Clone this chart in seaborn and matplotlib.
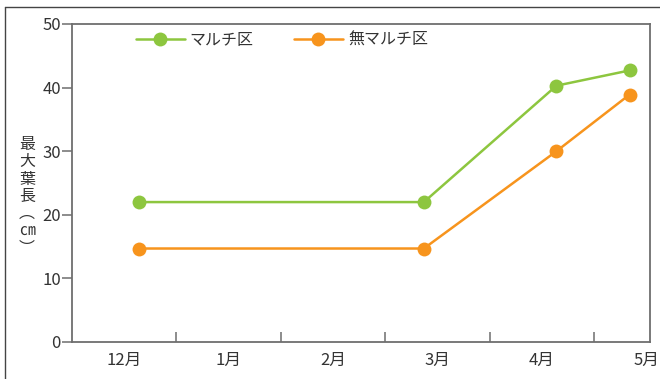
import matplotlib
matplotlib.use("Agg")
import matplotlib.pyplot as plt
from matplotlib.lines import Line2D
import seaborn as sns
import pandas as pd

# ---- data ----
series_names = ["マルチ区", "無マルチ区"]
# positions on a month axis (12月 = 0..1, 1月 = 1..2, ... 5月 = 5..6)
x_pos = [0.64, 3.37, 4.64, 5.34]
mulch = [22.0, 22.0, 40.3, 42.7]
no_mulch = [14.7, 14.7, 30.0, 38.9]
month_labels = ["12月", "1月", "2月", "3月", "4月", "5月"]
y_ticks = [0, 10, 20, 30, 40, 50]
ylabel_chars = ["最", "大", "葉", "長", "︵", "㎝", "︶"]
colors = ["#8DC63F", "#F7941D"]

df = pd.DataFrame({
    "x": x_pos * 2,
    "y": mulch + no_mulch,
    "series": [series_names[0]] * len(x_pos) + [series_names[1]] * len(x_pos),
})

sns.set_theme(style="white")
plt.rcParams["font.family"] = ["Noto Sans CJK JP", "DejaVu Sans"]

fig = plt.figure(figsize=(6.6, 3.79), dpi=100)
W, H = 660, 379
ax = fig.add_axes([72 / W, 1 - 342 / H, (650 - 72) / W, (342 - 24) / H])

sns.lineplot(data=df, x="x", y="y", hue="series", hue_order=series_names,
             palette=colors, marker="o", markersize=10, markeredgewidth=0,
             linewidth=1.8, ax=ax, legend=False, sort=False)

ax.set_xlim(0, 5.536)
ax.set_ylim(0, 50)
ax.set_xlabel("")
ax.set_ylabel("")

spine_c = "#6e6e6e"
for s in ax.spines.values():
    s.set_color(spine_c)
    s.set_linewidth(1.3)

ax.set_yticks(y_ticks)
ax.set_yticklabels([str(v) for v in y_ticks])
ax.tick_params(axis="y", direction="out", length=7, width=1.1, color=spine_c,
               pad=1, labelsize=12, labelcolor="#333333", left=True)

ax.set_xticks([1, 2, 3, 4, 5])
ax.set_xticklabels([])
ax.set_xticks([i + 0.5 for i in range(len(month_labels))], minor=True)
ax.set_xticklabels(month_labels, minor=True)
ax.tick_params(axis="x", which="major", direction="in", length=7, width=1.1,
               color=spine_c, bottom=True)
ax.tick_params(axis="x", which="minor", length=0, pad=7, labelsize=12,
               labelcolor="#333333", bottom=True)

handles = [Line2D([0], [0], color=c, lw=1.8, marker="o", markersize=10,
                  markeredgewidth=0) for c in colors]
ax.legend(handles, series_names, loc="upper left", bbox_to_anchor=(0.085, 1.02),
          ncol=2, frameon=False, handlelength=3.1, handletextpad=0.3,
          columnspacing=2.5, fontsize=11.5, labelcolor="#333333")

fig.text(27 / W, 1 - 136 / H, "\n".join(ylabel_chars), ha="center", va="top",
         fontsize=11.5, color="#333333", linespacing=1.02)

# outer frame lines
fig.add_artist(Line2D([5 / W, 5 / W], [1 - 7 / H, 0], color="#444444", lw=1.0,
                      transform=fig.transFigure))
fig.add_artist(Line2D([5 / W, 1], [1 - 7 / H, 1 - 7 / H], color="#444444", lw=1.0,
                      transform=fig.transFigure))

fig.savefig("out.png", dpi=100)
